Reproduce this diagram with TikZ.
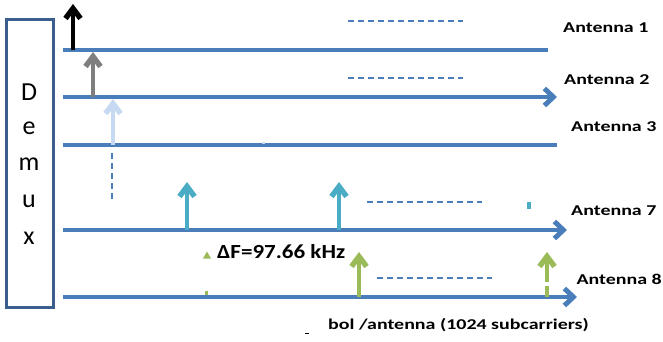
\documentclass[tikz,border=0pt]{standalone}
\usepackage{fontspec}
\setmainfont{Carlito}
\usetikzlibrary{arrows.meta}
\definecolor{lineblue}{HTML}{4A7EBB}
\definecolor{boxblue}{HTML}{3A5F8F}
\definecolor{cteal}{HTML}{4BACC6}
\definecolor{cgreen}{HTML}{9BBB59}
\definecolor{cpale}{HTML}{C6D9F1}
\definecolor{cgray}{HTML}{7F7F7F}
\tikzset{
  carrier/.style={line width=4.5pt, lineblue},
  carrierarrow/.style={carrier, -{Straight Barb[length=9pt,width=17pt,line width=0pt 1.1]}},
  tone/.style={line width=4.5pt, -{Straight Barb[length=10pt,width=15pt,line width=0pt 1.2]}},
  dots/.style={line width=2pt, lineblue, dash pattern=on 6pt off 4pt},
  antlabel/.style={anchor=west, inner sep=0pt, font=\fontsize{15}{16}\selectfont\bfseries},
  letter/.style={inner sep=0pt, font=\fontsize{26}{27}\selectfont}
}
\begin{document}
\begin{tikzpicture}[x=1pt,y=-1pt]
\useasboundingbox (0,0) rectangle (663,342);
% Demux box
\node[draw=boxblue, line width=3pt, minimum width=47pt, minimum height=287pt, inner sep=0pt] (demux) at (29.5,163.5) {};
\node[letter] (lD) at (29,92) {D};
\node[letter] (le) at (29,128) {e};
\node[letter] (lm) at (29,164) {m};
\node[letter] (lu) at (29,201) {u};
\node[letter] (lx) at (29,238) {x};
% carrier lines
\coordinate (l1a) at (63,50);  \coordinate (l1b) at (548,50);
\coordinate (l2a) at (63,97);  \coordinate (l2b) at (557,97);
\coordinate (l3a) at (63,145); \coordinate (l3b) at (557,145);
\coordinate (l4a) at (63,230); \coordinate (l4b) at (567,230);
\coordinate (l5a) at (63,297); \coordinate (l5b) at (577,297);
\draw[carrier] (l1a) -- (l1b);
\draw[carrierarrow] (l2a) -- (l2b);
\draw[carrier] (l3a) -- (l3b);
\draw[carrierarrow] (l4a) -- (l4b);
\draw[carrierarrow] (l5a) -- (l5b);
% tones
\coordinate (t1a) at (73,50);  \coordinate (t1b) at (73,4);
\coordinate (t2a) at (93,97);  \coordinate (t2b) at (93,52);
\coordinate (t3a) at (113,145); \coordinate (t3b) at (113,99);
\coordinate (t4a) at (187,230); \coordinate (t4b) at (187,182);
\coordinate (t5a) at (339,230); \coordinate (t5b) at (339,182);
\coordinate (t6a) at (359,297); \coordinate (t6b) at (359,252);
\coordinate (t7a) at (547,297); \coordinate (t7b) at (547,252);
\draw[tone, black] (t1a) -- (t1b);
\draw[tone, cgray] (t2a) -- (t2b);
\draw[tone, cpale] (t3a) -- (t3b);
\draw[tone, cteal] (t4a) -- (t4b);
\draw[tone, cteal] (t5a) -- (t5b);
\draw[tone, cgreen] (t6a) -- (t6b);
\draw[tone, cgreen] (t7a) -- (t7b);
\fill[white] (544,282) rectangle (550,286);
% small fragments
\fill[cteal] (527,202) rectangle (531,209);
\fill[cpale] (262,142) rectangle (265,144);
\fill[cgreen] (205,291) rectangle (208,295);
\fill[black] (305,333) rectangle (309,334);
% dashed continuations
\coordinate (d1a) at (348,21);  \coordinate (d1b) at (463,21);
\coordinate (d2a) at (348,78);  \coordinate (d2b) at (463,78);
\coordinate (d3a) at (367,202); \coordinate (d3b) at (482,202);
\coordinate (d4a) at (377,278); \coordinate (d4b) at (492,278);
\coordinate (dva) at (112,153); \coordinate (dvb) at (112,202);
\draw[dots] (d1a) -- (d1b);
\draw[dots] (d2a) -- (d2b);
\draw[dots] (d3a) -- (d3b);
\draw[dots] (d4a) -- (d4b);
\draw[dots] (dva) -- (dvb);
% labels
\node[antlabel] (a1) at (563,28) {\scalebox{1.33}[1]{Antenna 1}};
\node[antlabel] (a2) at (564,80) {\scalebox{1.33}[1]{Antenna 2}};
\node[antlabel] (a3) at (571,127) {\scalebox{1.33}[1]{Antenna 3}};
\node[antlabel] (a7) at (571,211) {\scalebox{1.33}[1]{Antenna 7}};
\node[antlabel, anchor=east] (a8) at (662,279) {\scalebox{1.33}[1]{Antenna 8}};
\fill[cgreen] (203,258.5) -- (211,258.5) -- (207,251.5) -- cycle;
\node[anchor=west, inner sep=0pt, font=\fontsize{20}{21}\selectfont\bfseries] (df) at (217,252) {\scalebox{1.15}[1]{ΔF=97.66 kHz}};
\node[anchor=west, inner sep=0pt, font=\fontsize{15}{16}\selectfont\bfseries] (sym) at (328,325) {\scalebox{1.33}[1]{bol /antenna (1024 subcarriers)}};
\end{tikzpicture}
\end{document}
